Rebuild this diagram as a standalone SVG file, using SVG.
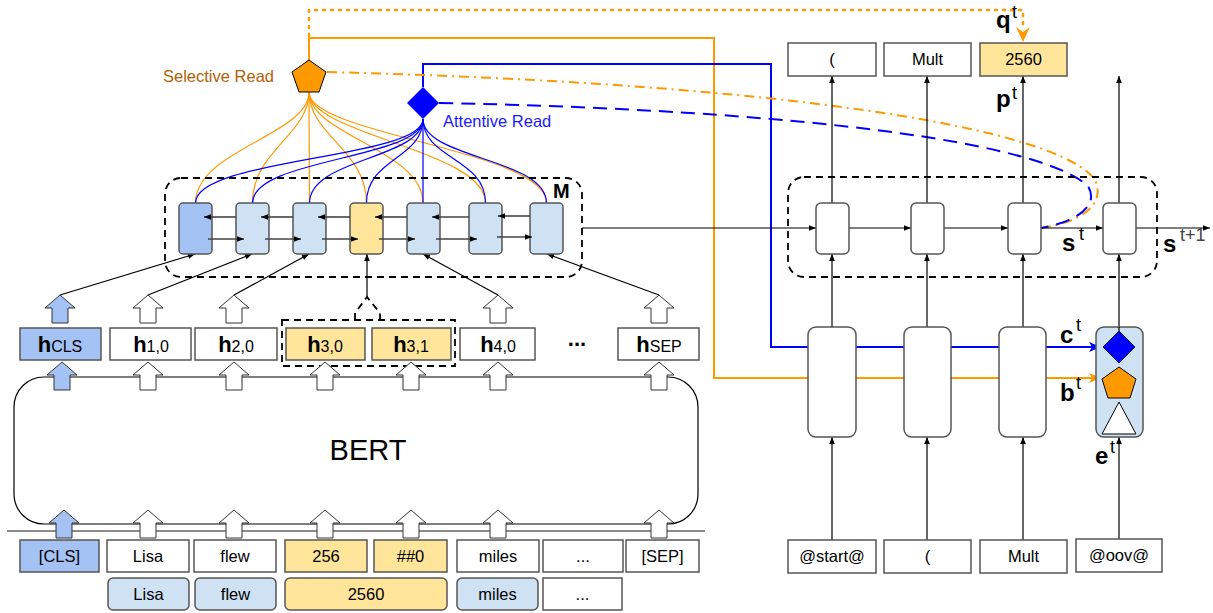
<svg xmlns="http://www.w3.org/2000/svg" width="1213" height="613" viewBox="0 0 1213 613">
<defs>
<style>
text{font-family:"Liberation Sans",Arial,sans-serif;fill:#000}
.lbl{font-size:16.5px;text-anchor:middle}
.bold{font-weight:bold}
.box{stroke:#555;stroke-width:1.5}
.w{fill:#fff}
.bl{fill:#cfe2f3}
.db{fill:#a4c2f4}
.ye{fill:#ffe599}
.ln{fill:none;stroke:#000;stroke-width:1.2}
.gl{fill:none;stroke:#444;stroke-width:1.6}
.dash{fill:none;stroke:#000;stroke-width:1.8;stroke-dasharray:7,5}
.or{fill:none;stroke:#ff9900;stroke-width:1.2}
.bu{fill:none;stroke:#0000ff;stroke-width:1.2}
.blk{stroke:#333;stroke-width:1}
.sup{font-size:18px}
.big{font-size:24px;font-weight:bold}
</style>
<marker id="a" viewBox="0 0 10 10" refX="10" refY="5" markerWidth="8" markerHeight="7" markerUnits="userSpaceOnUse" orient="auto"><path d="M0,1 L10,5 L0,9 Z" fill="#000"/></marker>
<marker id="ab" viewBox="0 0 12 10" refX="12" refY="5" markerWidth="13" markerHeight="10" markerUnits="userSpaceOnUse" orient="auto"><path d="M0,0 L12,5 L0,10 L3,5 Z" fill="#0000ff"/></marker>
<marker id="ao" viewBox="0 0 12 10" refX="12" refY="5" markerWidth="13" markerHeight="10" markerUnits="userSpaceOnUse" orient="auto"><path d="M0,0 L12,5 L0,10 L3,5 Z" fill="#ff9900"/></marker>
</defs>
<rect width="1213" height="613" fill="#fff"/>

<g id="connectors">
<path d="M309,36 V10 H1023 V30" fill="none" stroke="#ff9900" stroke-width="2.5" stroke-dasharray="2,6" stroke-linecap="round"/>
<path d="M1016,27 L1023,42 L1030,27 L1023,32 Z" fill="#ff9900"/>
<path d="M309,60 V38 H714 V378 H1101" fill="none" stroke="#ff9900" stroke-width="2" marker-end="url(#ao)"/>
<path d="M423,87 V64 H771 V347 H1101" fill="none" stroke="#0000ff" stroke-width="2" marker-end="url(#ab)"/>
<path d="M327,72 C800,84 1060,130 1095,180 C1106,204 1082,222 1041,228" fill="none" stroke="#ff9900" stroke-width="2" stroke-dasharray="10,5,2,5"/>
<path d="M439,103 C800,110 1040,142 1088,186 C1100,206 1076,222 1041,228" fill="none" stroke="#0000ff" stroke-width="2" stroke-dasharray="14,8"/>
<path class="or" d="M309,92 C309,135 195.5,150 195.5,203"/>
<path class="or" d="M309,92 C309,135 252.5,150 252.5,203"/>
<path class="or" d="M309,92 L309.5,203"/>
<path class="or" d="M309,92 C309,135 366.5,150 366.5,203"/>
<path class="or" d="M309,92 C309,135 423,150 423,203"/>
<path class="or" d="M309,92 C309,135 485.5,150 485.5,203"/>
<path class="or" d="M309,92 C309,135 546.5,150 546.5,203"/>
<path class="bu" d="M423,119 C423,159 195.5,158 195.5,203"/>
<path class="bu" d="M423,119 C423,159 252.5,158 252.5,203"/>
<path class="bu" d="M423,119 C423,159 309.5,158 309.5,203"/>
<path class="bu" d="M423,119 C423,159 366.5,158 366.5,203"/>
<path class="bu" d="M423,119 L423,203"/>
<path class="bu" d="M423,119 C423,159 485.5,158 485.5,203"/>
<path class="bu" d="M423,119 C423,159 546.5,158 546.5,203"/>
<line class="ln" x1="60" y1="295" x2="195" y2="254" marker-end="url(#a)"/>
<line class="ln" x1="148" y1="295" x2="252" y2="254" marker-end="url(#a)"/>
<line class="ln" x1="234" y1="295" x2="309" y2="254" marker-end="url(#a)"/>
<line class="ln" x1="367" y1="297" x2="367" y2="254" marker-end="url(#a)"/>
<line class="ln" x1="498" y1="295" x2="423" y2="254" marker-end="url(#a)"/>
<line class="ln" x1="659" y1="295" x2="547" y2="254" marker-end="url(#a)"/>
<path class="dash" d="M355,320 V313 L367,297 L380,313 V320" stroke-dasharray="6,4"/>
<line class="ln" x1="582" y1="228" x2="816" y2="228" marker-end="url(#a)"/>
<line class="ln" x1="849" y1="228" x2="911" y2="228" marker-end="url(#a)"/>
<line class="ln" x1="944" y1="228" x2="1008" y2="228" marker-end="url(#a)"/>
<line class="ln" x1="1041" y1="228" x2="1103" y2="228" marker-end="url(#a)"/>
<line class="ln" x1="1136" y1="228" x2="1210" y2="228" marker-end="url(#a)"/>
<g class="ln">
<line x1="832" y1="203" x2="832" y2="76" marker-end="url(#a)"/>
<line x1="927" y1="203" x2="927" y2="76" marker-end="url(#a)"/>
<line x1="1023" y1="203" x2="1023" y2="76" marker-end="url(#a)"/>
<line x1="1119" y1="203" x2="1119" y2="76" marker-end="url(#a)"/>
<line x1="832" y1="327" x2="832" y2="254" marker-end="url(#a)"/>
<line x1="927" y1="327" x2="927" y2="254" marker-end="url(#a)"/>
<line x1="1023" y1="327" x2="1023" y2="254" marker-end="url(#a)"/>
<line x1="1119" y1="331" x2="1119" y2="254" marker-end="url(#a)"/>
<line x1="832" y1="540" x2="832" y2="437" marker-end="url(#a)"/>
<line x1="927" y1="540" x2="927" y2="437" marker-end="url(#a)"/>
<line x1="1023" y1="540" x2="1023" y2="437" marker-end="url(#a)"/>
<line x1="1119" y1="539" x2="1119" y2="437" marker-end="url(#a)"/>
</g>
<line x1="7" y1="531" x2="705" y2="531" stroke="#666" stroke-width="1.5"/>
</g>

<g id="selective-read">
<polygon points="309,60 326,72 319,92 299,92 292,72" fill="#ff9900" stroke="#000" stroke-width="1"/>
<text x="163" y="82" font-size="16.5" style="fill:#b45f06">Selective Read</text>
</g>
<g id="attentive-read">
<polygon points="423,87 439,103 423,119 407,103" fill="#0000ff"/>
<text x="443" y="127" font-size="16.5" style="fill:#1a1aff">Attentive Read</text>
</g>

<g id="memory">
<rect class="dash" x="165" y="178" width="417" height="99" rx="16"/>
<rect class="box db" x="179" y="203" width="33" height="51" rx="4"/>
<rect class="box bl" x="236" y="203" width="33" height="51" rx="4"/>
<rect class="box bl" x="293" y="203" width="33" height="51" rx="4"/>
<rect class="box ye" x="350" y="203" width="33" height="51" rx="4"/>
<rect class="box bl" x="407" y="203" width="33" height="51" rx="4"/>
<rect class="box bl" x="469" y="203" width="33" height="51" rx="4"/>
<rect class="box bl" x="530" y="203" width="33" height="51" rx="4"/>
<g class="gl">
<line x1="236" y1="217" x2="204" y2="217" marker-end="url(#a)"/>
<line x1="208" y1="239" x2="244" y2="239" marker-end="url(#a)"/>
<line x1="293" y1="217" x2="261" y2="217" marker-end="url(#a)"/>
<line x1="265" y1="239" x2="301" y2="239" marker-end="url(#a)"/>
<line x1="350" y1="217" x2="318" y2="217" marker-end="url(#a)"/>
<line x1="322" y1="239" x2="358" y2="239" marker-end="url(#a)"/>
<line x1="407" y1="217" x2="375" y2="217" marker-end="url(#a)"/>
<line x1="379" y1="239" x2="415" y2="239" marker-end="url(#a)"/>
<line x1="469" y1="217" x2="432" y2="217" marker-end="url(#a)"/>
<line x1="436" y1="239" x2="477" y2="239" marker-end="url(#a)"/>
<line x1="530" y1="216" x2="498" y2="216" marker-end="url(#a)"/>
<line x1="497" y1="237" x2="532" y2="237" marker-end="url(#a)"/>
</g>
<text x="553" y="198" font-size="20" class="bold">M</text>
</g>

<g id="h-row">
<rect class="box db" x="20" y="328" width="81" height="32"/>
<text x="60" y="352" text-anchor="middle"><tspan font-size="22" font-weight="bold">h</tspan><tspan font-size="16">CLS</tspan></text>
<rect class="box w" x="110" y="328" width="81" height="32"/>
<text x="151" y="352" text-anchor="middle"><tspan font-size="22" font-weight="bold">h</tspan><tspan font-size="16">1,0</tspan></text>
<rect class="box w" x="195" y="328" width="82" height="32"/>
<text x="236" y="352" text-anchor="middle"><tspan font-size="22" font-weight="bold">h</tspan><tspan font-size="16">2,0</tspan></text>
<rect class="dash" x="282" y="320" width="173" height="46"/>
<rect class="box ye" x="286" y="328" width="79" height="32"/>
<text x="325" y="352" text-anchor="middle"><tspan font-size="22" font-weight="bold">h</tspan><tspan font-size="16">3,0</tspan></text>
<rect class="box ye" x="372" y="328" width="79" height="32"/>
<text x="411" y="352" text-anchor="middle"><tspan font-size="22" font-weight="bold">h</tspan><tspan font-size="16">3,1</tspan></text>
<rect class="box w" x="460" y="328" width="75" height="32"/>
<text x="498" y="352" text-anchor="middle"><tspan font-size="22" font-weight="bold">h</tspan><tspan font-size="16">4,0</tspan></text>
<text x="577" y="346" text-anchor="middle" font-size="22" font-weight="bold">...</text>
<rect class="box w" x="618" y="328" width="81" height="32"/>
<text x="659" y="352" text-anchor="middle"><tspan font-size="22" font-weight="bold">h</tspan><tspan font-size="16">SEP</tspan></text>
</g>

<g id="bert">
<rect x="14" y="377" width="684" height="147" rx="30" fill="#fff" stroke="#000" stroke-width="1.2"/>
<text x="368" y="460" text-anchor="middle" font-size="29">BERT</text>
</g>

<g id="block-arrows" class="blk">
<g id="arrows-top">
<polygon class="db" points="60,295 75,308 68,308 68,323 52,323 52,308 45,308"/>
<polygon class="w" points="148,295 163,308 156,308 156,323 140,323 140,308 133,308"/>
<polygon class="w" points="234,295 249,308 242,308 242,323 226,323 226,308 219,308"/>
<polygon class="w" points="498,295 513,308 506,308 506,323 490,323 490,308 483,308"/>
<polygon class="w" points="659,295 674,308 667,308 667,323 651,323 651,308 644,308"/>
</g>
<g id="arrows-mid">
<polygon class="db" points="62,362 77,375 70,375 70,390 54,390 54,375 47,375"/>
<polygon class="w" points="148,362 163,375 156,375 156,390 140,390 140,375 133,375"/>
<polygon class="w" points="234,362 249,375 242,375 242,390 226,390 226,375 219,375"/>
<polygon class="w" points="325,362 340,375 333,375 333,390 317,390 317,375 310,375"/>
<polygon class="w" points="411,362 426,375 419,375 419,390 403,390 403,375 396,375"/>
<polygon class="w" points="498,362 513,375 506,375 506,390 490,390 490,375 483,375"/>
<polygon class="w" points="659,362 674,375 667,375 667,390 651,390 651,375 644,375"/>
</g>
<g id="arrows-bottom">
<polygon class="db" points="64,510 79,523 72,523 72,538 56,538 56,523 49,523"/>
<polygon class="w" points="148,510 163,523 156,523 156,538 140,538 140,523 133,523"/>
<polygon class="w" points="234,510 249,523 242,523 242,538 226,538 226,523 219,523"/>
<polygon class="w" points="325,510 340,523 333,523 333,538 317,538 317,523 310,523"/>
<polygon class="w" points="411,510 426,523 419,523 419,538 403,538 403,523 396,523"/>
<polygon class="w" points="498,510 513,523 506,523 506,538 490,538 490,523 483,523"/>
<polygon class="w" points="659,510 674,523 667,523 667,538 651,538 651,523 644,523"/>
</g>
</g>

<g id="tokens">
<rect class="box db" x="20" y="540" width="79" height="32"/><text class="lbl" x="59.5" y="562">[CLS]</text>
<rect class="box w" x="107" y="540" width="82" height="32"/><text class="lbl" x="148" y="562">Lisa</text>
<rect class="box w" x="194" y="540" width="82" height="32"/><text class="lbl" x="235" y="562">flew</text>
<rect class="box ye" x="285" y="540" width="82" height="32"/><text class="lbl" x="326" y="562">256</text>
<rect class="box ye" x="374" y="540" width="73" height="32"/><text class="lbl" x="410.5" y="562">##0</text>
<rect class="box w" x="457" y="540" width="82" height="32"/><text class="lbl" x="498" y="562">miles</text>
<rect class="box w" x="543" y="540" width="80" height="32"/><text class="lbl" x="583" y="562">...</text>
<rect class="box w" x="626" y="540" width="73" height="32"/><text class="lbl" x="662.5" y="562">[SEP]</text>
</g>
<g id="words">
<rect class="box bl" x="108" y="578" width="81" height="32" rx="5"/><text class="lbl" x="148.5" y="600">Lisa</text>
<rect class="box bl" x="195" y="578" width="81" height="32" rx="5"/><text class="lbl" x="235.5" y="600">flew</text>
<rect class="box ye" x="285" y="578" width="162" height="32" rx="5"/><text class="lbl" x="366" y="600">2560</text>
<rect class="box bl" x="457" y="578" width="81" height="32" rx="5"/><text class="lbl" x="497.5" y="600">miles</text>
<rect class="box w" x="543" y="578" width="79" height="32"/><text class="lbl" x="582.5" y="600">...</text>
</g>

<g id="decoder-state">
<rect class="dash" x="788" y="177" width="369" height="100" rx="16"/>
<rect class="box w" x="816" y="203" width="33" height="51" rx="5"/>
<rect class="box w" x="911" y="203" width="33" height="51" rx="5"/>
<rect class="box w" x="1008" y="203" width="33" height="51" rx="5"/>
<rect class="box w" x="1103" y="203" width="33" height="51" rx="5"/>
<text x="1062" y="251" class="big">s</text><text x="1079" y="240" class="sup">t</text>
<text x="1163" y="252" class="big">s</text><text x="1180" y="241" class="sup" style="fill:#444">t+1</text>
</g>

<g id="outputs">
<rect class="box w" x="788" y="43" width="88" height="33"/><text class="lbl" x="832" y="65">(</text>
<rect class="box w" x="884" y="43" width="87" height="33"/><text class="lbl" x="927.5" y="65">Mult</text>
<rect class="box ye" x="980" y="43" width="87" height="33"/><text class="lbl" x="1023.5" y="65">2560</text>
<text x="996" y="28" class="big">q</text><text x="1012" y="18" class="sup">t</text>
<text x="996" y="107" class="big">p</text><text x="1012" y="99" class="sup">t</text>
</g>

<g id="decoder-lower">
<rect class="box w" x="808" y="327" width="48" height="110" rx="8"/>
<rect class="box w" x="904" y="327" width="47" height="110" rx="8"/>
<rect class="box w" x="999" y="327" width="47" height="110" rx="8"/>
<text x="1060" y="343" class="big">c</text><text x="1076" y="331" class="sup">t</text>
<text x="1060" y="401" class="big">b</text><text x="1076" y="389" class="sup">t</text>
</g>

<g id="input-concat">
<rect class="box bl" x="1096" y="327" width="47" height="110" rx="8"/>
<line x1="1119" y1="327" x2="1119" y2="331" stroke="#000" stroke-width="1.2"/>
<polygon points="1119,331 1135,347 1119,363 1103,347" fill="#0000ff" stroke="#000" stroke-width="0.8"/>
<polygon points="1119,367 1136,379 1130,398 1108,398 1102,379" fill="#ff9900" stroke="#000" stroke-width="1"/>
<polygon points="1119,402 1136,434 1102,434" fill="#fff" stroke="#000" stroke-width="1"/>
<text x="1095" y="464" class="big">e</text><text x="1110" y="453" class="sup">t</text>
</g>

<g id="inputs">
<rect class="box w" x="788" y="540" width="88" height="33"/><text class="lbl" x="832" y="562">@start@</text>
<rect class="box w" x="884" y="540" width="87" height="33"/><text class="lbl" x="927.5" y="562">(</text>
<rect class="box w" x="980" y="540" width="87" height="33"/><text class="lbl" x="1023.5" y="562">Mult</text>
<rect class="box w" x="1076" y="539" width="86" height="33"/><text class="lbl" x="1119" y="561">@oov@</text>
</g>
</svg>
